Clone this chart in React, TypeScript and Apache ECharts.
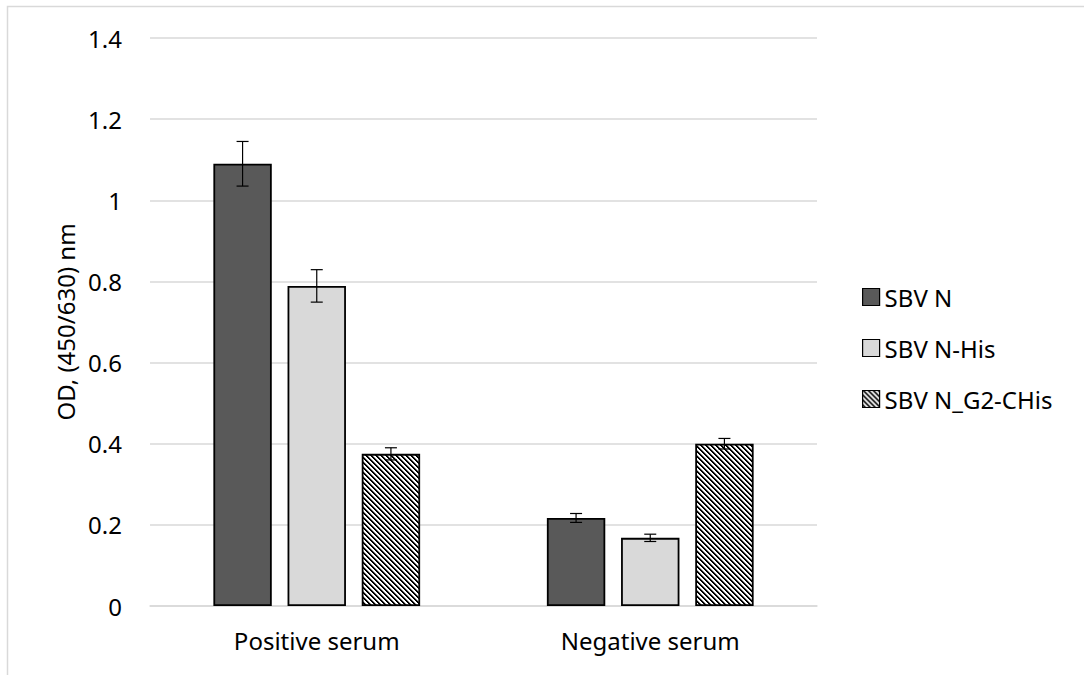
import React, { useEffect, useRef } from "react";
import * as echarts from "echarts";

const categories = ["Positive serum", "Negative serum"];
const seriesNames = ["SBV N", "SBV N-His", "SBV N_G2-CHis"];
const sbvN = [1.09, 0.217];
const sbvNHis = [0.789, 0.168];
const sbvNG2 = [0.375, 0.4];
const errN = [0.055, 0.011];
const errNHis = [0.04, 0.009];
const errNG2 = [0.015, 0.013];
const yTicks = { min: 0, max: 1.4, interval: 0.2 };

const FONT = "Noto Sans";

function makeHatch(): HTMLCanvasElement {
  const size = 10;
  const c = document.createElement("canvas");
  c.width = size;
  c.height = size;
  const ctx = c.getContext("2d")!;
  const img = ctx.createImageData(size, size);
  for (let y = 0; y < size; y++) {
    for (let x = 0; x < size; x++) {
      const m = (((x - y) % 5) + 5) % 5;
      let v = 255;
      if (m === 0 || m === 1) v = 0;
      else if (m === 2) v = 160;
      const i = (y * size + x) * 4;
      img.data[i] = v;
      img.data[i + 1] = v;
      img.data[i + 2] = v;
      img.data[i + 3] = 255;
    }
  }
  ctx.putImageData(img, 0, 0);
  return c;
}

export default function App() {
  const ref = useRef<HTMLDivElement>(null);
  useEffect(() => {
    if (!ref.current) return;
    const chart = echarts.init(ref.current, undefined, { renderer: "svg" });
    const hatch = makeHatch();
    const pattern: any = { image: hatch, repeat: "repeat", imageWidth: 10, imageHeight: 10 };
    const values = [sbvN, sbvNHis, sbvNG2];
    const errs = [errN, errNHis, errNG2];
    const colors: any[] = ["#595959", "#d9d9d9", pattern];
    const gapCat = 0.38;
    const gapBar = 0.27;

    const errData: any[] = [];
    values.forEach((vals, s) => {
      vals.forEach((v, c) => errData.push([c, v, errs[s][c], s]));
    });

    const barSeries = values.map((vals, s) => ({
      name: seriesNames[s],
      type: "bar",
      data: vals,
      barCategoryGap: gapCat * 100 + "%",
      barGap: gapBar * 100 + "%",
      itemStyle: { color: colors[s], borderColor: "#000", borderWidth: 1.8 },
      emphasis: { disabled: true },
    }));

    chart.setOption({
      animation: false,
      graphic: [
        {
          type: "rect",
          shape: { x: 7.5, y: 6.5, width: 3000, height: 3000 },
          style: { fill: "none", stroke: "#d9d9d9", lineWidth: 1.5 },
          silent: true,
        },
      ],
      grid: { left: 150, width: 667, top: 38, height: 568 },
      legend: {
        data: seriesNames,
        orient: "vertical",
        left: 857,
        top: 280,
        icon: "rect",
        itemWidth: 17,
        itemHeight: 17,
        itemGap: 27,
        textStyle: { fontFamily: FONT, fontSize: 24, color: "#000", lineHeight: 24 },
        itemStyle: { borderColor: "#000", borderWidth: 1.2 },
      },
      xAxis: {
        type: "category",
        data: categories,
        axisTick: { show: false },
        axisLine: { lineStyle: { color: "#d9d9d9", width: 1.5 } },
        axisLabel: { fontFamily: FONT, fontSize: 24, color: "#000", margin: 22 },
      },
      yAxis: {
        type: "value",
        min: yTicks.min,
        max: yTicks.max,
        interval: yTicks.interval,
        name: "OD, (450/630) nm",
        nameLocation: "middle",
        nameRotate: 90,
        nameGap: 72,
        nameTextStyle: { fontFamily: FONT, fontSize: 24, color: "#000" },
        axisLine: { show: false },
        axisTick: { show: false },
        splitLine: { lineStyle: { color: "#d9d9d9", width: 1.5 } },
        axisLabel: { fontFamily: FONT, fontSize: 24, color: "#000", margin: 28 },
      },
      series: [
        ...barSeries,
        {
          type: "custom",
          name: "err",
          data: errData,
          z: 10,
          silent: true,
          renderItem: (params: any, api: any) => {
            const c = api.value(0);
            const v = api.value(1);
            const e = api.value(2);
            const s = api.value(3);
            const bw = api.size([1, 0])[0];
            const barW = (bw * (1 - gapCat)) / (3 + 2 * gapBar);
            const off = barW * (1 + gapBar);
            const x = api.coord([c, 0])[0] + (s - 1) * off;
            const yt = api.coord([c, v + e])[1];
            const yb = api.coord([c, v - e])[1];
            const cap = 6;
            const st = { stroke: "#000", lineWidth: 1.2 };
            return {
              type: "group",
              children: [
                { type: "line", shape: { x1: x, y1: yt, x2: x, y2: yb }, style: st },
                { type: "line", shape: { x1: x - cap, y1: yt, x2: x + cap, y2: yt }, style: st },
                { type: "line", shape: { x1: x - cap, y1: yb, x2: x + cap, y2: yb }, style: st },
              ],
            };
          },
        },
      ],
    });
    return () => chart.dispose();
  }, []);
  return (
    <div
      ref={ref}
      style={{ position: "absolute", left: 0, top: 0, width: 1084, height: 675, background: "#fff" }}
    />
  );
}
